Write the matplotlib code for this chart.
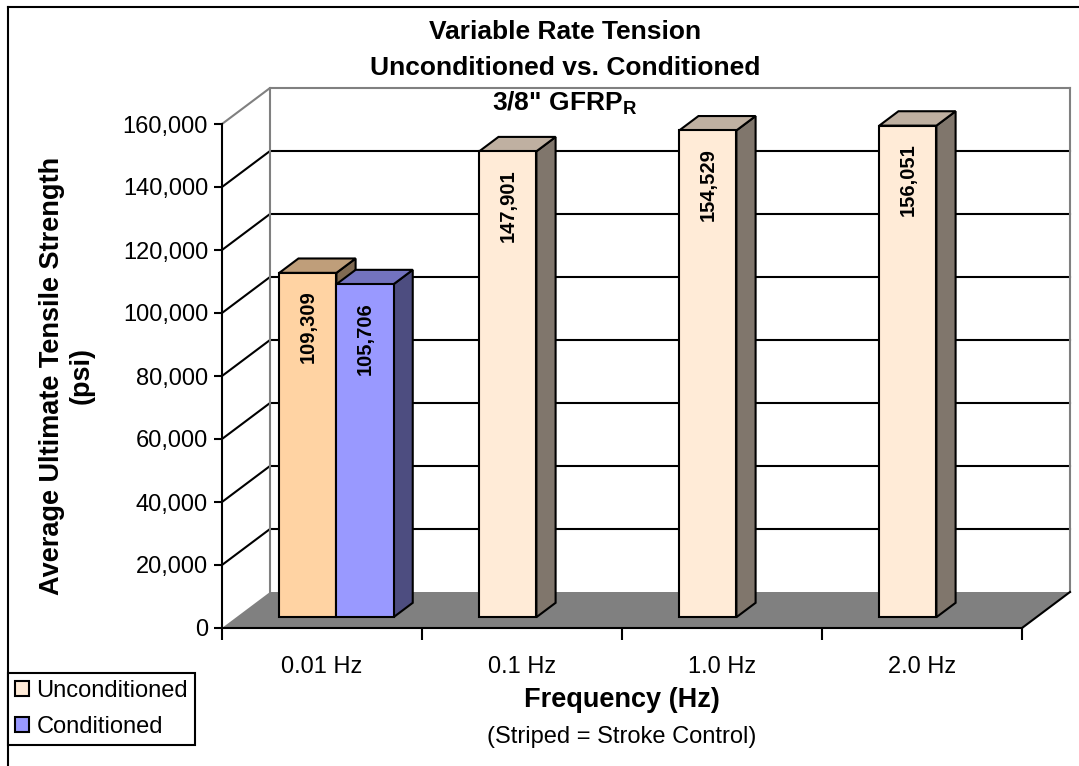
import numpy as np
import matplotlib.pyplot as plt
from matplotlib.patches import Polygon, Patch
from matplotlib.lines import Line2D
from matplotlib.ticker import FuncFormatter

plt.rcParams["font.family"] = "Liberation Sans"
plt.rcParams["mathtext.fontset"] = "custom"
plt.rcParams["mathtext.rm"] = "Liberation Sans"
plt.rcParams["mathtext.bf"] = "Liberation Sans:bold"

# data
categories = ["0.01 Hz", "0.1 Hz", "1.0 Hz", "2.0 Hz"]
unconditioned = [109309, 147901, 154529, 156051]
conditioned = [105706, np.nan, np.nan, np.nan]
unconditioned_colors = ["#FFD3A3", "#FFEBD7", "#FFEBD7", "#FFEBD7"]
conditioned_color = "#9999FF"
yticks = list(range(0, 160001, 20000))

W, H = 1079, 766
fig = plt.figure(figsize=(W / 100, H / 100), dpi=100)
ax = fig.add_axes([222 / W, (H - 628) / H, 800 / W, 504 / H])
ax.set_xlim(0, len(categories))
ax.set_ylim(0, yticks[-1])
ax.patch.set_visible(False)

# fake 3d: depth d in [0, 1] shifts up and to the right
DX = 48 / 200
DV = 36 / 504 * yticks[-1]


def proj(x, v, d):
    return (x + d * DX, v + d * DV)


def shade(color, k):
    r, g, b = plt.matplotlib.colors.to_rgb(color)
    return (r * k, g * k, b * k)


def px(x, y):
    return (x / W, 1 - y / H)


n = len(categories)
LW = 1.5

# walls and gridlines
for v in yticks[1:]:
    c = "#808080" if v == yticks[-1] else "black"
    pts = [proj(0, v, 0), proj(0, v, 1), proj(n, v, 1)]
    ax.plot(*zip(*pts), color=c, lw=LW, clip_on=False, zorder=1)
for x in (0, n):
    pts = [proj(x, 0, 1), proj(x, yticks[-1], 1)]
    ax.plot(*zip(*pts), color="#808080", lw=LW, clip_on=False, zorder=1)

# floor
floor = [proj(0, 0, 0), proj(n, 0, 0), proj(n, 0, 1), proj(0, 0, 1)]
ax.add_patch(Polygon(floor, closed=True, fc="#808080", ec="none",
                     clip_on=False, zorder=2))
ax.plot(*zip(proj(n, 0, 0), proj(n, 0, 1)), color="black", lw=LW,
        clip_on=False, zorder=2)


def draw_bar(x0, x1, v, color, z):
    f0, f1 = 0.3, 0.7
    front = [proj(x0, 0, f0), proj(x1, 0, f0), proj(x1, v, f0), proj(x0, v, f0)]
    top = [proj(x0, v, f0), proj(x1, v, f0), proj(x1, v, f1), proj(x0, v, f1)]
    side = [proj(x1, 0, f0), proj(x1, 0, f1), proj(x1, v, f1), proj(x1, v, f0)]
    for poly, k in ((side, 0.5), (top, 0.75), (front, 1.0)):
        ax.add_patch(Polygon(poly, closed=True, fc=shade(color, k), ec="black",
                             lw=LW, joinstyle="miter", clip_on=False, zorder=z))
    ax.annotate(f"{v:,.0f}", xy=proj((x0 + x1) / 2, v, f0), xytext=(0, -39),
                textcoords="offset points", rotation=90, ha="center",
                va="center", fontsize=14.5, fontweight="bold", zorder=z + 0.5)


bw = 1 / 3.5
for i in range(n):
    left = i + 0.75 * bw
    draw_bar(left, left + bw, unconditioned[i], unconditioned_colors[i], 3 + 2 * i)
    if not np.isnan(conditioned[i]):
        draw_bar(left + bw, left + 2 * bw, conditioned[i], conditioned_color,
                 4 + 2 * i)

# axes
for s in ("top", "right"):
    ax.spines[s].set_visible(False)
for s in ("left", "bottom"):
    ax.spines[s].set_linewidth(LW)
    ax.spines[s].set_zorder(20)
ax.set_yticks(yticks)
ax.yaxis.set_major_formatter(FuncFormatter(lambda v, p: f"{v:,.0f}"))
ax.tick_params(axis="y", direction="out", length=6, width=LW, pad=4,
               labelsize=17)
ax.set_xticks(range(n + 1))
ax.set_xticklabels([])
ax.set_xticks([i + 0.5 for i in range(n)], minor=True)
ax.set_xticklabels(categories, minor=True)
ax.tick_params(axis="x", which="major", direction="out", length=8.5, width=LW)
ax.tick_params(axis="x", which="minor", length=0, pad=20, labelsize=17)

# titles
fig.text(*px(565, 32), "Variable Rate Tension", ha="center", va="center",
         fontsize=19, fontweight="bold")
fig.text(*px(565, 68), "Unconditioned vs. Conditioned", ha="center",
         va="center", fontsize=19, fontweight="bold")
fig.text(*px(565, 103), '3/8" GFRP$_{\\mathbf{R}}$', ha="center", va="center",
         fontsize=19, fontweight="bold")
fig.text(*px(67, 376), "Average Ultimate Tensile Strength\n(psi)", rotation=90,
         ha="center", va="center", multialignment="center", fontsize=19.5,
         fontweight="bold", linespacing=1.2)
fig.text(*px(622, 700), "Frequency (Hz)", ha="center", va="center",
         fontsize=19.5, fontweight="bold")
fig.text(*px(622, 737), "(Striped = Stroke Control)", ha="center",
         va="center", fontsize=17)

# chart border
fig.add_artist(Line2D([8 / W, 8 / W], [0, 1 - 7 / H], color="black", lw=LW))
fig.add_artist(Line2D([8 / W, 1], [1 - 7 / H, 1 - 7 / H], color="black", lw=LW))

# legend
handles = [Patch(fc="#FFEBD7", ec="black", lw=LW),
           Patch(fc=conditioned_color, ec="black", lw=LW)]
leg = fig.legend(handles, ["Unconditioned", "Conditioned"], loc="upper left",
                 bbox_to_anchor=px(8, 673), borderaxespad=0, fontsize=17,
                 fancybox=False, edgecolor="black", framealpha=1,
                 handlelength=0.6, handleheight=0.6, handletextpad=0.3,
                 borderpad=0.3, labelspacing=0.6)
leg.get_frame().set_linewidth(LW)

fig.savefig("out.png", dpi=100)
